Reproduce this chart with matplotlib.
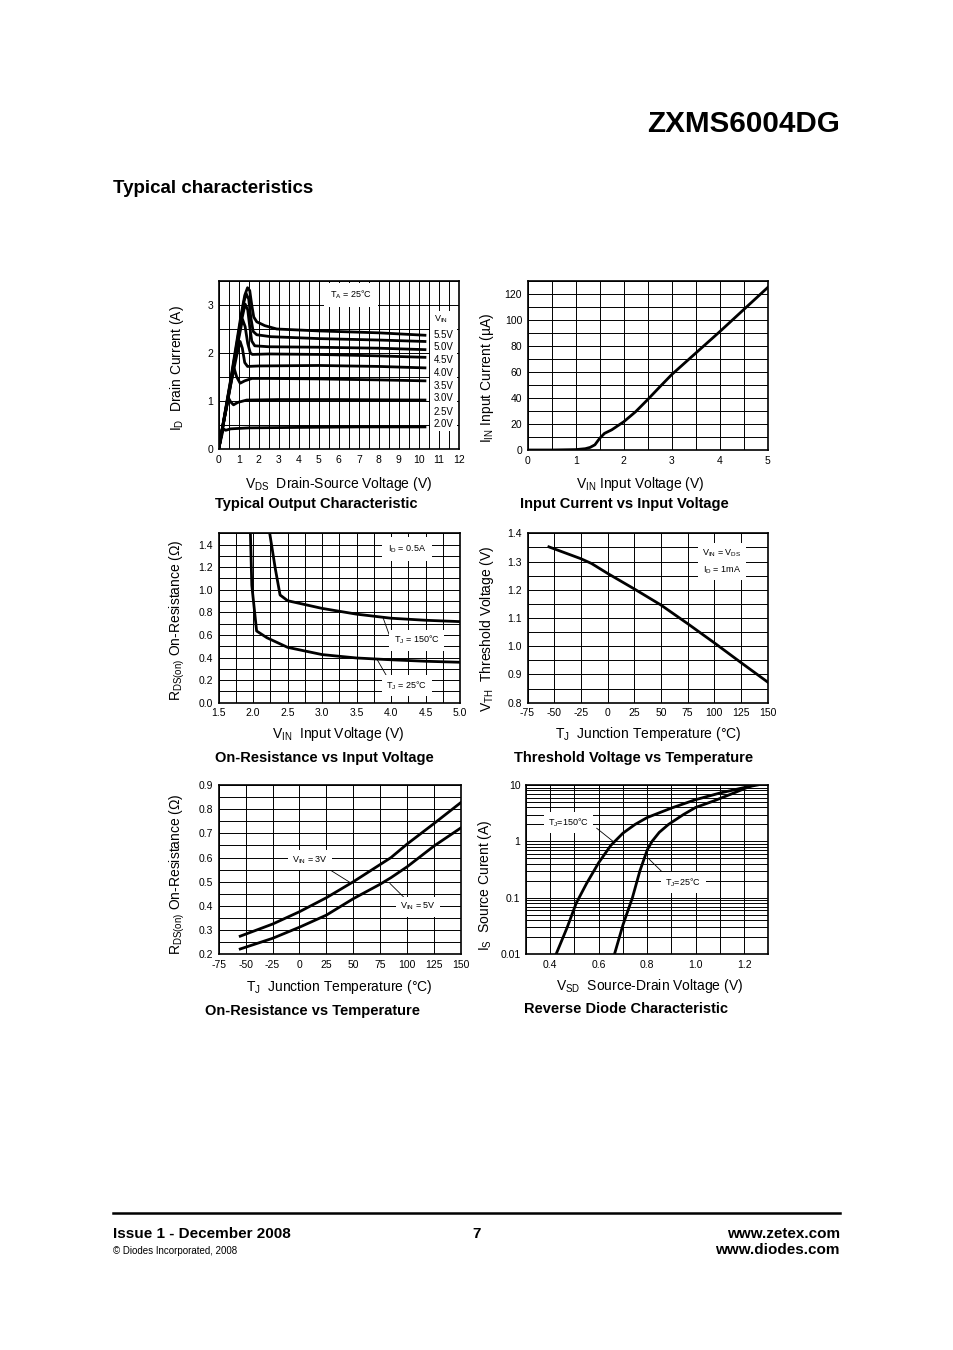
import matplotlib as mpl
mpl.use('Agg')
import matplotlib.pyplot as plt
from matplotlib.ticker import MultipleLocator, FixedLocator, FormatStrFormatter, LogLocator, NullFormatter
from matplotlib.patches import Rectangle

plt.rcParams['font.family'] = ['Liberation Sans', 'DejaVu Sans']
plt.rcParams['mathtext.default'] = 'regular'
plt.rcParams['axes.unicode_minus'] = False

# --- Typical output characteristic (ID vs VDS for several VIN) ---
vin_labels = ['5.5V', '5.0V', '4.5V', '4.0V', '3.5V', '3.0V', '2.5V', '2.0V']
vds_55 = [0, 0.6, 1.1, 1.3, 1.44, 1.55, 1.65, 1.75, 1.9, 2.3, 2.9, 5, 8, 10.3]
id_55 = [0, 1.45, 2.75, 3.2, 3.36, 3.3, 3.0, 2.75, 2.65, 2.57, 2.5, 2.46, 2.42, 2.37]
vds_50 = [0, 0.6, 1.1, 1.25, 1.37, 1.5, 1.6, 1.72, 1.9, 2.6, 5, 8, 10.3]
id_50 = [0, 1.42, 2.68, 3.05, 3.24, 3.12, 2.75, 2.45, 2.38, 2.34, 2.3, 2.27, 2.24]
vds_45 = [0, 0.6, 1.1, 1.32, 1.45, 1.55, 1.65, 1.8, 2.5, 5, 8, 10.3]
id_45 = [0, 1.4, 2.6, 3.02, 2.9, 2.55, 2.25, 2.15, 2.13, 2.12, 2.1, 2.07]
vds_40 = [0, 0.6, 1.0, 1.19, 1.32, 1.45, 1.58, 1.68, 2.5, 5, 8, 10.3]
id_40 = [0, 1.38, 2.3, 2.7, 2.55, 2.2, 2.0, 1.97, 1.98, 1.97, 1.94, 1.91]
vds_35 = [0, 0.6, 0.9, 1.07, 1.18, 1.3, 1.44, 2, 5, 8, 10.3]
id_35 = [0, 1.35, 1.95, 2.24, 2.1, 1.8, 1.72, 1.73, 1.74, 1.72, 1.69]
vds_30 = [0, 0.4, 0.65, 0.77, 0.9, 1.07, 1.3, 1.66, 2.5, 5, 8, 10.3]
id_30 = [0, 0.9, 1.45, 1.68, 1.5, 1.37, 1.42, 1.47, 1.47, 1.46, 1.44, 1.42]
vds_25 = [0, 0.3, 0.49, 0.6, 0.74, 0.95, 1.4, 3, 6, 10.3]
id_25 = [0, 0.68, 1.06, 0.98, 0.92, 0.97, 1.02, 1.03, 1.03, 1.02]
vds_20 = [0, 0.23, 0.35, 0.6, 1.5, 4, 7, 10.3]
id_20 = [0, 0.42, 0.39, 0.42, 0.44, 0.45, 0.46, 0.46]

# --- Input current vs input voltage ---
vin_in = [0, 0.5, 1.0, 1.2, 1.3, 1.4, 1.5, 1.6, 1.75, 2.0, 2.25, 2.5, 2.75, 3.0, 3.5, 4.0, 4.5, 5.0]
iin = [0, 0, 0.3, 1.0, 2.0, 4.0, 9.0, 12.8, 15.5, 21.7, 29.5, 38.8, 48.5, 58, 74.5, 91, 108, 125]

# --- On-resistance vs input voltage (ID = 0.5A) ---
vin_r150 = [2.24, 2.32, 2.39, 2.5, 3.0, 3.5, 4.0, 4.5, 5.0]
rds_r150 = [1.5, 1.19, 0.954, 0.903, 0.835, 0.784, 0.748, 0.73, 0.718]
vin_r25 = [1.96, 1.98, 2.05, 2.2, 2.5, 3.0, 3.5, 4.0, 4.5, 5.0]
rds_r25 = [1.5, 1.04, 0.635, 0.575, 0.49, 0.426, 0.396, 0.38, 0.367, 0.358]

# --- Threshold voltage vs temperature ---
tj_vth = [-55, -25, -15, 0, 25, 50, 75, 100, 125, 150]
vth = [1.352, 1.31, 1.293, 1.258, 1.203, 1.146, 1.08, 1.012, 0.942, 0.873]

# --- On-resistance vs temperature ---
tj_3v = [-55, -25, 0, 25, 50, 85, 100, 125, 150]
rds_3v = [0.275, 0.325, 0.376, 0.434, 0.50, 0.60, 0.656, 0.741, 0.828]
tj_5v = [-55, -25, 0, 25, 50, 75, 85, 100, 125, 150]
rds_5v = [0.222, 0.266, 0.312, 0.362, 0.43, 0.49, 0.517, 0.562, 0.648, 0.723]

# --- Reverse diode characteristic ---
vsd_150 = [0.424, 0.47, 0.507, 0.55, 0.60, 0.65, 0.70, 0.75, 0.80, 0.90, 1.00, 1.10, 1.20, 1.255]
is_150 = [0.01, 0.03, 0.08, 0.18, 0.42, 0.85, 1.4, 2.0, 2.65, 3.9, 5.5, 7.2, 9.0, 10.0]
vsd_25 = [0.665, 0.70, 0.739, 0.77, 0.80, 0.82, 0.85, 0.888, 0.95, 1.00, 1.074, 1.15, 1.238]
is_25 = [0.01, 0.033, 0.1, 0.3, 0.7, 1.0, 1.45, 2.0, 3.0, 4.0, 5.2, 7.0, 10.0]

W, H = 954, 1350
fig = plt.figure(figsize=(9.54, 13.5), dpi=100)


def fx(x):
    return x / W


def fy(y):
    return 1 - y / H


def make_axes(left, top, right, bottom):
    ax = fig.add_axes([fx(left), fy(bottom), (right - left) / W, (bottom - top) / H])
    ax.set_axisbelow(True)
    ax.tick_params(which='both', length=0, labelsize=7.5, pad=4)
    for s in ax.spines.values():
        s.set_linewidth(1.2)
    ax.grid(True, which='both', color='black', lw=0.7)
    return ax


def label_box(ax, x, y, s, size=6.5, pad=2):
    ax.text(x, y, s, ha='center', va='center', fontsize=size, zorder=4,
            bbox=dict(facecolor='white', edgecolor='none', pad=pad))


def leader(ax, xs, ys):
    ax.plot(xs, ys, color='black', lw=0.6, zorder=3)


LW = 2.0

# page header
fig.text(fx(840), fy(131.5), 'ZXMS6004DG', ha='right', va='baseline',
         fontsize=21.3, fontweight='bold')
fig.text(fx(113), fy(193), 'Typical characteristics', ha='left', va='baseline',
         fontsize=13.5, fontweight='bold')

# 1. output characteristic
ax1 = make_axes(218.7, 281, 459, 449)
curves = [(vds_55, id_55), (vds_50, id_50), (vds_45, id_45), (vds_40, id_40),
          (vds_35, id_35), (vds_30, id_30), (vds_25, id_25), (vds_20, id_20)]
for xs, ys in curves:
    ax1.plot(xs, ys, color='black', lw=LW, solid_joinstyle='round', zorder=2)
ax1.set_xlim(0, 12)
ax1.set_ylim(0, 3.5)
ax1.xaxis.set_major_locator(MultipleLocator(1))
ax1.xaxis.set_minor_locator(MultipleLocator(0.5))
ax1.yaxis.set_major_locator(MultipleLocator(1))
ax1.yaxis.set_minor_locator(MultipleLocator(0.5))
ax1.add_patch(Rectangle((10.55, 0.38), 1.35, 2.5, facecolor='white', edgecolor='none', zorder=1))
ax1.text(10.75, 2.70, 'V$_{IN}$', fontsize=6.5, va='center', ha='left', zorder=4)
lab_y = [2.375, 2.12, 1.855, 1.59, 1.32, 1.055, 0.78, 0.514]
for s, yy in zip(vin_labels, lab_y):
    ax1.text(10.72, yy, s, fontsize=7, va='center', ha='left', zorder=4)
label_box(ax1, 6.6, 3.21, 'T$_A$ = 25°C', pad=4)

# 2. input current
ax2 = make_axes(527.7, 281, 767.7, 450)
ax2.plot(vin_in, iin, color='black', lw=LW, zorder=2)
ax2.set_xlim(0, 5)
ax2.set_ylim(0, 130)
ax2.xaxis.set_major_locator(MultipleLocator(1))
ax2.xaxis.set_minor_locator(MultipleLocator(0.5))
ax2.yaxis.set_major_locator(MultipleLocator(20))
ax2.yaxis.set_minor_locator(MultipleLocator(10))
ax2.set_yticks([0, 20, 40, 60, 80, 100, 120])

# 3. on-resistance vs input voltage
ax3 = make_axes(218.7, 533.3, 460, 702.7)
ax3.plot(vin_r150, rds_r150, color='black', lw=LW, zorder=2)
ax3.plot(vin_r25, rds_r25, color='black', lw=LW, zorder=2)
ax3.set_xlim(1.5, 5.0)
ax3.set_ylim(0, 1.5)
ax3.xaxis.set_major_locator(MultipleLocator(0.5))
ax3.xaxis.set_minor_locator(MultipleLocator(0.25))
ax3.set_yticks([0, 0.2, 0.4, 0.6, 0.8, 1.0, 1.2, 1.4])
ax3.yaxis.set_minor_locator(MultipleLocator(0.1))
ax3.xaxis.set_major_formatter(FormatStrFormatter('%.1f'))
ax3.yaxis.set_major_formatter(FormatStrFormatter('%.1f'))
label_box(ax3, 4.23, 1.36, 'I$_D$ = 0.5A', pad=4)
leader(ax3, [3.88, 3.98], [0.76, 0.59])
label_box(ax3, 4.37, 0.554, 'T$_J$ = 150°C', pad=3)
leader(ax3, [3.80, 3.94], [0.38, 0.232])
label_box(ax3, 4.23, 0.152, 'T$_J$ = 25°C', pad=3)

# 4. threshold voltage vs temperature
ax4 = make_axes(527.5, 533.3, 767.7, 702.7)
ax4.plot(tj_vth, vth, color='black', lw=LW, zorder=2)
ax4.set_xlim(-75, 150)
ax4.set_ylim(0.8, 1.4)
ax4.xaxis.set_major_locator(MultipleLocator(25))
ax4.yaxis.set_major_locator(MultipleLocator(0.1))
ax4.yaxis.set_minor_locator(MultipleLocator(0.05))
ax4.yaxis.set_major_formatter(FormatStrFormatter('%.1f'))
ax4.text(107, 1.30, 'V$_{IN}$ = V$_{DS}$\nI$_D$ = 1mA', ha='center', va='center',
         fontsize=6.5, linespacing=1.5, zorder=4,
         bbox=dict(facecolor='white', edgecolor='none', pad=3))

# 5. on-resistance vs temperature
ax5 = make_axes(218.7, 785, 461, 954.3)
ax5.plot(tj_3v, rds_3v, color='black', lw=LW, zorder=2)
ax5.plot(tj_5v, rds_5v, color='black', lw=LW, zorder=2)
ax5.set_xlim(-75, 150)
ax5.set_ylim(0.2, 0.9)
ax5.xaxis.set_major_locator(MultipleLocator(25))
ax5.yaxis.set_major_locator(MultipleLocator(0.1))
ax5.yaxis.set_minor_locator(MultipleLocator(0.05))
ax5.yaxis.set_major_formatter(FormatStrFormatter('%.1f'))
label_box(ax5, 9.8, 0.59, 'V$_{IN}$ = 3V', pad=3)
leader(ax5, [23.7, 47], [0.562, 0.497])
label_box(ax5, 110, 0.397, 'V$_{IN}$ = 5V', pad=3)
leader(ax5, [84, 101], [0.493, 0.418])

# 6. reverse diode
ax6 = make_axes(526, 785, 768.3, 954.3)
ax6.set_yscale('log')
ax6.plot(vsd_150, is_150, color='black', lw=LW, zorder=2)
ax6.plot(vsd_25, is_25, color='black', lw=LW, zorder=2)
ax6.set_xlim(0.3, 1.3)
ax6.set_ylim(0.01, 10)
ax6.xaxis.set_major_locator(FixedLocator([0.4, 0.6, 0.8, 1.0, 1.2]))
ax6.xaxis.set_minor_locator(MultipleLocator(0.1))
ax6.xaxis.set_major_formatter(FormatStrFormatter('%.1f'))
ax6.yaxis.set_major_locator(FixedLocator([0.01, 0.1, 1, 10]))
ax6.set_yticklabels(['0.01', '0.1', '1', '10'])
ax6.yaxis.set_minor_locator(LogLocator(base=10, subs=range(2, 10)))
ax6.yaxis.set_minor_formatter(NullFormatter())
label_box(ax6, 0.475, 2.18, 'T$_J$=150°C', pad=3)
leader(ax6, [0.592, 0.661], [1.71, 0.99])
label_box(ax6, 0.95, 0.186, 'T$_J$=25°C', pad=3)
leader(ax6, [0.805, 0.861], [0.5, 0.291])

# axis labels and chart captions
xlab = [(339, 488, 'V$_{DS}$  Drain-Source Voltage (V)'),
        (640, 488, 'V$_{IN}$ Input Voltage (V)'),
        (338, 738, 'V$_{IN}$  Input Voltage (V)'),
        (648, 738, 'T$_J$  Junction Temperature (°C)'),
        (339.5, 991, 'T$_J$  Junction Temperature (°C)'),
        (649.5, 990, 'V$_{SD}$  Source-Drain Voltage (V)')]
for x, y, s in xlab:
    fig.text(fx(x), fy(y), s, ha='center', va='baseline', fontsize=10)

ylab = [(177, 368, 'I$_D$  Drain Current (A)'),
        (487, 378, 'I$_{IN}$ Input Current (µA)'),
        (177, 620, 'R$_{DS(on)}$ On-Resistance (Ω)'),
        (487, 629, 'V$_{TH}$  Threshold Voltage (V)'),
        (177, 874, 'R$_{DS(on)}$ On-Resistance (Ω)'),
        (485, 885, 'I$_S$  Source Curent (A)')]
for x, y, s in ylab:
    fig.text(fx(x), fy(y), s, ha='center', va='center', rotation=90, fontsize=10)

titles = [(316.7, 508, 'Typical Output Characteristic'),
          (624, 508, 'Input Current vs Input Voltage'),
          (324.5, 762, 'On-Resistance vs Input Voltage'),
          (633.5, 762, 'Threshold Voltage vs Temperature'),
          (313, 1015, 'On-Resistance vs Temperature'),
          (626.5, 1013, 'Reverse Diode Characteristic')]
for x, y, s in titles:
    fig.text(fx(x), fy(y), s, ha='center', va='baseline', fontsize=10.5, fontweight='bold')

# footer
fig.add_artist(plt.Line2D([fx(113), fx(840)], [fy(1213), fy(1213)], color='black', lw=1.8))
fig.text(fx(113), fy(1238), 'Issue 1 - December 2008', ha='left', va='baseline',
         fontsize=11, fontweight='bold')
fig.text(fx(477), fy(1238), '7', ha='center', va='baseline', fontsize=11, fontweight='bold')
fig.text(fx(840), fy(1238), 'www.zetex.com', ha='right', va='baseline',
         fontsize=11, fontweight='bold')
fig.text(fx(113), fy(1254), '© Diodes Incorporated, 2008', ha='left', va='baseline', fontsize=7)
fig.text(fx(840), fy(1254), 'www.diodes.com', ha='right', va='baseline',
         fontsize=11, fontweight='bold')

fig.savefig('out.png', dpi=100, facecolor='white')
